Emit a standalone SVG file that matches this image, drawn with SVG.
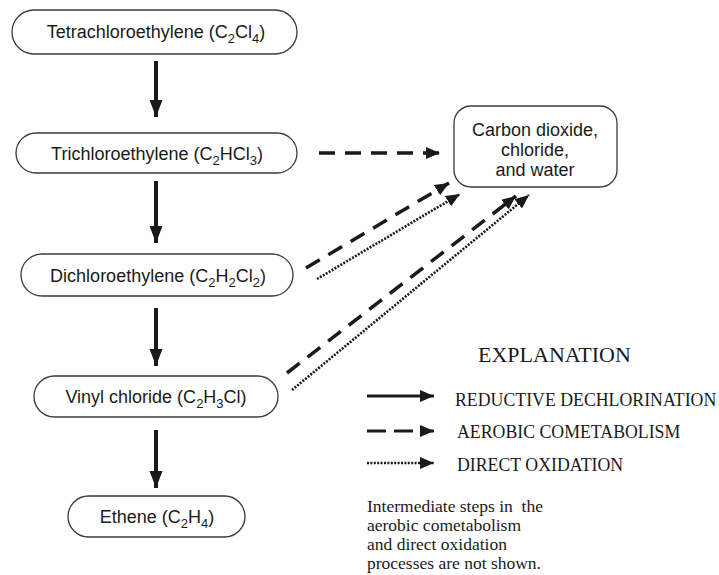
<svg xmlns="http://www.w3.org/2000/svg" width="719" height="575" viewBox="0 0 719 575">
<style>
.box{fill:#fff;stroke:#3a3a3a;stroke-width:1.3}
.lbl{font-family:"Liberation Sans",Arial,sans-serif;font-size:18px;fill:#1a1a1a;text-anchor:middle}
.sub{font-size:13px}
.ser{font-family:"Liberation Serif","Times New Roman",serif;fill:#1a1a1a;white-space:pre}
.solid{stroke:#1a1a1a;stroke-width:4;fill:none}
.dash{stroke:#1a1a1a;stroke-width:3.5;stroke-dasharray:16 10;fill:none}
.dot{stroke:#1a1a1a;stroke-width:2.6;stroke-dasharray:2 1.4;fill:none}
</style>
<defs>
<marker id="big" markerUnits="userSpaceOnUse" markerWidth="17" markerHeight="14" refX="17" refY="7" orient="auto"><path d="M0,0.5 L17,7 L0,13.5 z" fill="#1a1a1a"/></marker>
<marker id="sm" markerUnits="userSpaceOnUse" markerWidth="14" markerHeight="12" refX="14" refY="6" orient="auto"><path d="M0,0 L14,6 L0,12 z" fill="#1a1a1a"/></marker>
</defs>
<g id="n1"><rect class="box" x="12" y="10" width="285" height="44" rx="22"/><text class="lbl" x="156" y="38">Tetrachloroethylene (C<tspan class="sub" dy="4.5">2</tspan><tspan dy="-4.5">Cl</tspan><tspan class="sub" dy="4.5">4</tspan><tspan dy="-4.5">)</tspan></text></g>
<g id="n2"><rect class="box" x="16" y="133" width="281" height="40" rx="20"/><text class="lbl" x="157" y="160">Trichloroethylene (C<tspan class="sub" dy="4.5">2</tspan><tspan dy="-4.5">HCl</tspan><tspan class="sub" dy="4.5">3</tspan><tspan dy="-4.5">)</tspan></text></g>
<g id="n3"><rect class="box" x="21" y="254" width="272" height="42" rx="21"/><text class="lbl" x="158" y="282">Dichloroethylene (C<tspan class="sub" dy="4.5">2</tspan><tspan dy="-4.5">H</tspan><tspan class="sub" dy="4.5">2</tspan><tspan dy="-4.5">Cl</tspan><tspan class="sub" dy="4.5">2</tspan><tspan dy="-4.5">)</tspan></text></g>
<g id="n4"><rect class="box" x="34" y="376" width="244" height="41" rx="20.5"/><text class="lbl" x="156" y="403">Vinyl chloride (C<tspan class="sub" dy="4.5">2</tspan><tspan dy="-4.5">H</tspan><tspan class="sub" dy="4.5">3</tspan><tspan dy="-4.5">Cl)</tspan></text></g>
<g id="n5"><rect class="box" x="68" y="496" width="177" height="41" rx="20.5"/><text class="lbl" x="157" y="523">Ethene (C<tspan class="sub" dy="4.5">2</tspan><tspan dy="-4.5">H</tspan><tspan class="sub" dy="4.5">4</tspan><tspan dy="-4.5">)</tspan></text></g>
<g id="n6"><rect class="box" x="454" y="106" width="163" height="81" rx="17"/><text class="lbl" x="535" y="136">Carbon dioxide,</text><text class="lbl" x="535" y="156">chloride,</text><text class="lbl" x="535" y="176">and water</text></g>
<g id="connectors">
<line class="solid" x1="156" y1="61" x2="156" y2="117" marker-end="url(#big)"/>
<line class="solid" x1="156" y1="181" x2="156" y2="243" marker-end="url(#big)"/>
<line class="solid" x1="156" y1="308" x2="156" y2="366" marker-end="url(#big)"/>
<line class="solid" x1="156" y1="430" x2="156" y2="488" marker-end="url(#big)"/>
<line class="dash" x1="319" y1="153" x2="440" y2="153" marker-end="url(#sm)"/>
<line class="dash" x1="306" y1="268" x2="449" y2="183" marker-end="url(#sm)"/>
<line class="dot" x1="317" y1="279" x2="460" y2="194" marker-end="url(#sm)"/>
<line class="dash" x1="287" y1="373" x2="516" y2="196" marker-end="url(#sm)"/>
<line class="dot" x1="292" y1="390" x2="529" y2="195" marker-end="url(#sm)"/>
</g>
<g id="legend">
<text class="ser" x="478" y="362" font-size="22">EXPLANATION</text>
<line stroke="#1a1a1a" stroke-width="3" x1="367" y1="396" x2="434" y2="396" marker-end="url(#sm)"/>
<line stroke="#1a1a1a" stroke-width="3" stroke-dasharray="19 8" x1="367" y1="431" x2="434" y2="431" marker-end="url(#sm)"/>
<line stroke="#1a1a1a" stroke-width="2.6" stroke-dasharray="2 1.4" x1="367" y1="463" x2="434" y2="463" marker-end="url(#sm)"/>
<text class="ser" x="455" y="406" font-size="17.8">REDUCTIVE DECHLORINATION</text>
<text class="ser" x="457" y="438" font-size="17.8">AEROBIC COMETABOLISM</text>
<text class="ser" x="457" y="471" font-size="17.8">DIRECT OXIDATION</text>
<text class="ser" x="367" y="512" font-size="17.5">Intermediate steps in  the</text>
<text class="ser" x="367" y="531" font-size="17.5">aerobic cometabolism</text>
<text class="ser" x="367" y="550" font-size="17.5">and direct oxidation</text>
<text class="ser" x="367" y="569" font-size="17.5">processes are not shown.</text>
</g>
</svg>
